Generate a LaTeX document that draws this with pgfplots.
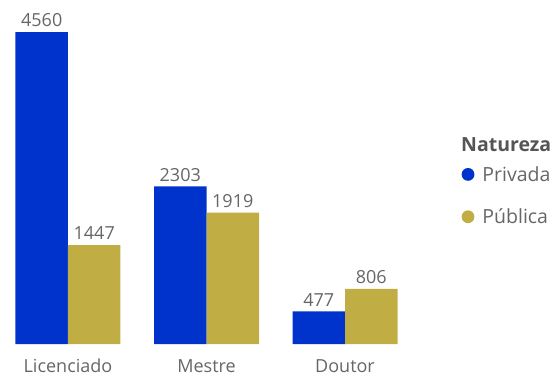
\documentclass[border=0pt]{standalone}
\usepackage{pgfplots}
\pgfplotsset{compat=1.18}
\usepackage{fontspec}
\setmainfont{Open Sans}
\definecolor{priv}{HTML}{0033CC}
\definecolor{pub}{HTML}{C0AE45}
\definecolor{txt}{HTML}{666666}
\definecolor{ttl}{HTML}{555555}
\begin{document}
\begin{tikzpicture}[x=1pt,y=1pt]
\useasboundingbox (0,0) rectangle (553,376);
\begin{axis}[at={(9.8pt,32pt)}, anchor=south west, scale only axis,
  width=393.4pt, height=328.4pt,
  ybar=0pt, bar width=52.5pt,
  xmin=-0.42, xmax=2.42, ymin=0, ymax=4800,
  axis line style={draw=none}, tick style={draw=none},
  ytick=\empty, xtick={0,1,2},
  xticklabels={Licenciado,Mestre,Doutor},
  xticklabel style={font=\fontsize{18}{21}\selectfont, text=txt, inner sep=0pt, text depth=0pt, anchor=base, yshift=-24pt},
  /pgf/number format/.cd, 1000 sep={}, assume math mode=true, /pgfplots/.cd,
  nodes near coords,
  nodes near coords style={font=\fontsize{18}{21}\selectfont, text=txt, inner sep=0pt, anchor=south, yshift=5pt},
  legend style={at={(axis description cs:1.148,0.548)}, anchor=north west, draw=none, fill=none,
    font=\fontsize{19.5}{23}\selectfont, text=txt, row sep=22pt, inner sep=0pt, column sep=6pt},
  legend cell align=left,
  clip=false,
]
\addplot[fill=priv, draw=none, legend image code/.code={\fill[priv] (6.4pt,0pt) circle (6.4pt);}]
  coordinates {(0,4560) (1,2303) (2,477)};
\addlegendentry{Privada}
\addplot[fill=pub, draw=none, legend image code/.code={\fill[pub] (6.4pt,0pt) circle (6.4pt);}]
  coordinates {(0,1447) (1,1919) (2,806)};
\addlegendentry{Pública}
\end{axis}
\node[anchor=base west, inner sep=0pt, text=ttl, font=\fontsize{19.5}{23}\selectfont\bfseries] at (461,225) {Natureza};
\end{tikzpicture}
\end{document}
